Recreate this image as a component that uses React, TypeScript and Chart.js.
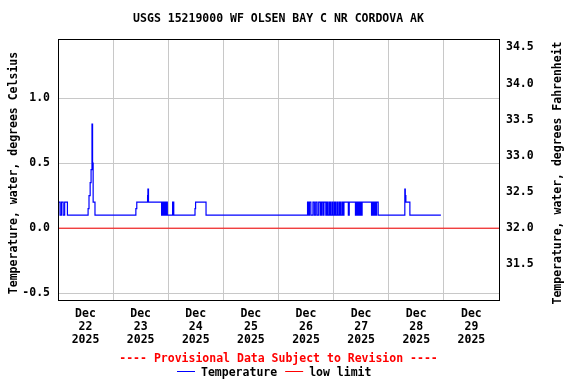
import React, { useEffect, useRef } from "react";
import { Chart, registerables } from "chart.js";

Chart.register(...registerables);

const TITLE = "USGS 15219000 WF OLSEN BAY C NR CORDOVA AK";
const LEFT_TITLE = "Temperature, water, degrees Celsius";
const RIGHT_TITLE = "Temperature, water, degrees Fahrenheit";
const NOTE = "---- Provisional Data Subject to Revision ----";
const LEGEND_LABELS = ["Temperature", "low limit"];

const monthLabel = "Dec";
const yearLabel = "2025";
const dayLabels = ["22", "23", "24", "25", "26", "27", "28", "29", ""];
const dayTicks = [0, 24, 48, 72, 96, 120, 144, 168, 192];
const celsiusTicks = [-0.5, 0, 0.5, 1.0];
const fahrenheitTicks = [31.5, 32, 32.5, 33, 33.5, 34, 34.5];
const cMin = -0.552;
const cMax = 1.454;

// hours since Dec 22 00:00, value (deg C) starting at that hour
const hours = [
  0, 0.9, 1.5, 2.25, 2.9, 4.1,
  13.1, 13.5, 14.0, 14.4, 14.8, 15.05, 15.3, 16.1,
  33.9, 34.3, 39.0, 39.15, 39.4,
  45.1, 45.35, 45.6, 45.85, 46.1, 46.35, 46.6, 46.85, 47.1, 47.35, 47.6,
  49.9, 50.4,
  59.65, 59.9, 64.45,
  108.65, 109.1, 109.5, 110.1,
  111.0, 111.6, 112.2, 112.8,
  113.5, 114.2, 114.7, 115.3, 115.8, 116.6,
  117.1, 117.6, 118.2, 118.7, 119.3, 119.8,
  120.4, 120.9, 121.5, 122.0, 122.6, 123.1, 123.7, 124.1, 124.5,
  126.4, 126.8,
  129.5, 129.8, 130.1, 130.4, 130.7, 131.0, 131.4, 131.8, 132.1, 132.4,
  136.5, 136.8, 137.1, 137.4, 137.7, 138.0, 138.4, 138.7, 139.4,
  151.0, 151.2, 151.45, 153.2,
  166.7,
];
const temps = [
  0.2, 0.1, 0.2, 0.1, 0.2, 0.1,
  0.15, 0.25, 0.35, 0.45, 0.8, 0.5, 0.2, 0.1,
  0.15, 0.2, 0.25, 0.3, 0.2,
  0.1, 0.2, 0.1, 0.2, 0.1, 0.2, 0.1, 0.2, 0.1, 0.2, 0.1,
  0.2, 0.1,
  0.15, 0.2, 0.1,
  0.2, 0.1, 0.2, 0.1,
  0.2, 0.1, 0.2, 0.1,
  0.2, 0.1, 0.2, 0.1, 0.2, 0.1,
  0.2, 0.1, 0.2, 0.1, 0.2, 0.1,
  0.2, 0.1, 0.2, 0.1, 0.2, 0.1, 0.2, 0.1, 0.2,
  0.1, 0.2,
  0.1, 0.2, 0.1, 0.2, 0.1, 0.2, 0.1, 0.2, 0.1, 0.2,
  0.1, 0.2, 0.1, 0.2, 0.1, 0.2, 0.1, 0.2, 0.1,
  0.3, 0.25, 0.2, 0.1,
  0.1,
];
const lowLimitHours = [0, 192];
const lowLimitValues = [0, 0];

const FONT_FAMILY = "'DejaVu Sans Mono', monospace";
const FONT = `bold 11.5px ${FONT_FAMILY}`;
const GRID = "#c8c8c8";

const overlay = {
  id: "overlay",
  afterDraw(chart: any) {
    const { ctx, chartArea: a } = chart;
    ctx.save();
    ctx.strokeStyle = "#000";
    ctx.lineWidth = 1;
    ctx.strokeRect(a.left + 0.5, a.top + 0.5, a.right - a.left, a.bottom - a.top);
    ctx.font = FONT;
    ctx.fillStyle = "#000";
    ctx.textAlign = "center";
    ctx.textBaseline = "middle";
    const cx = (a.left + a.right) / 2;
    ctx.fillText(TITLE, cx, 19);

    ctx.save();
    ctx.translate(14, 173);
    ctx.rotate(-Math.PI / 2);
    ctx.fillText(LEFT_TITLE, 0, 0);
    ctx.restore();

    ctx.save();
    ctx.translate(558, 173);
    ctx.rotate(-Math.PI / 2);
    ctx.fillText(RIGHT_TITLE, 0, 0);
    ctx.restore();

    ctx.fillStyle = "#ff0000";
    ctx.fillText(NOTE, cx, 359);

    // legend
    const ly = 371;
    let x = 177;
    ctx.textAlign = "left";
    ctx.fillStyle = "#0000ff";
    ctx.fillRect(x, ly, 18, 1);
    x += 24;
    ctx.fillStyle = "#000";
    ctx.fillText(LEGEND_LABELS[0], x, ly + 2);
    x += ctx.measureText(LEGEND_LABELS[0]).width + 8;
    ctx.fillStyle = "#ff0000";
    ctx.fillRect(x, ly, 18, 1);
    x += 24;
    ctx.fillStyle = "#000";
    ctx.fillText(LEGEND_LABELS[1], x, ly + 2);
    ctx.restore();
  },
};

export default function App() {
  const ref = useRef<HTMLCanvasElement | null>(null);
  useEffect(() => {
    document.body.style.margin = "0";
    const canvas = ref.current;
    if (!canvas) return;
    const tickFont = { family: FONT_FAMILY, size: 11.5, weight: "bold" as const, lineHeight: 13 / 11.5 };
    const chart = new Chart(canvas, {
      type: "line",
      data: {
        datasets: [
          {
            label: LEGEND_LABELS[1],
            data: lowLimitHours.map((h, i) => ({ x: h, y: lowLimitValues[i] })),
            borderColor: "#ff0000",
            borderWidth: 1,
            pointRadius: 0,
            yAxisID: "y",
          },
          {
            label: LEGEND_LABELS[0],
            data: hours.map((h, i) => ({ x: h, y: temps[i] })),
            borderColor: "#0000ff",
            borderWidth: 1.2,
            pointRadius: 0,
            stepped: true,
            yAxisID: "y",
          },
        ],
      },
      options: {
        animation: false,
        responsive: false,
        events: [],
        layout: { padding: { top: 39, left: 0, right: 0, bottom: 0 } },
        plugins: { legend: { display: false }, tooltip: { enabled: false }, title: { display: false } },
        scales: {
          x: {
            type: "linear",
            min: 0,
            max: 192,
            afterBuildTicks: (s: any) => {
              s.ticks = dayTicks.map((v) => ({ value: v }));
            },
            afterFit: (s: any) => {
              s.height = 84;
            },
            grid: { color: GRID, drawTicks: false },
            border: { display: false },
            ticks: {
              autoSkip: false,
              maxRotation: 0,
              padding: 8,
              labelOffset: 27.5,
              color: "#000",
              font: tickFont,
              callback: (_v: any, i: number) => (dayLabels[i] ? [monthLabel, dayLabels[i], yearLabel] : ""),
            },
          },
          y: {
            position: "left",
            min: cMin,
            max: cMax,
            afterBuildTicks: (s: any) => {
              s.ticks = celsiusTicks.map((v) => ({ value: v }));
            },
            afterFit: (s: any) => {
              s.width = 58;
            },
            grid: { color: GRID, drawTicks: false },
            border: { display: false },
            ticks: {
              padding: 8,
              color: "#000",
              font: tickFont,
              callback: (v: any) => Number(v).toFixed(1),
            },
          },
          y2: {
            position: "right",
            min: cMin * 1.8 + 32,
            max: cMax * 1.8 + 32,
            afterBuildTicks: (s: any) => {
              s.ticks = fahrenheitTicks.map((v) => ({ value: v }));
            },
            afterFit: (s: any) => {
              s.width = 77;
            },
            grid: { display: false, drawTicks: false },
            border: { display: false },
            ticks: {
              padding: 7,
              color: "#000",
              font: tickFont,
              callback: (v: any) => Number(v).toFixed(1),
            },
          },
        },
      },
      plugins: [overlay],
    } as any);
    return () => chart.destroy();
  }, []);
  return <canvas ref={ref} width={576} height={384} style={{ display: "block" }} />;
}
